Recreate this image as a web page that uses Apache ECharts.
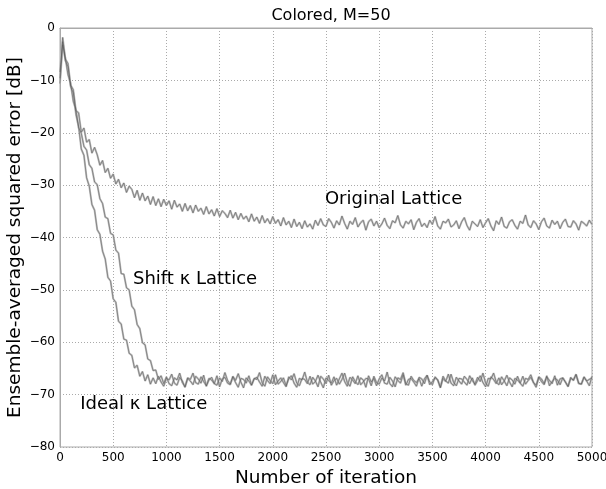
<!DOCTYPE html>
<html>
<head>
<meta charset="utf-8">
<script src="https://cdn.jsdelivr.net/npm/echarts@6/dist/echarts.min.js"></script>
<style>
  html, body { margin: 0; padding: 0; background: #fff; }
  #chart { width: 606px; height: 489px; }
</style>
</head>
<body>
<div id="chart"></div>
<script>
// samples every STEP iterations
const STEP = 25;

const originalLattice = [
  -9.6, -1.8, -5.9, -6.8, -10.9, -11.8, -15.8, -16.2, -19.9, -19.1,
  -21.8, -21.3, -23.9, -22.8, -24.2, -26.2, -25.3, -27.6, -26.8, -28.7,
  -27.9, -29.8, -28.9, -30.5, -29.6, -31.4, -30.2, -30.8, -32.4, -31.0,
  -32.9, -31.5, -33.0, -32.1, -33.7, -32.2, -33.9, -32.6, -34.1, -32.7,
  -33.9, -33.0, -34.6, -32.9, -34.2, -33.6, -35.0, -33.5, -34.9, -33.9,
  -35.3, -33.8, -35.0, -34.4, -35.6, -34.1, -35.5, -34.7, -35.9, -34.5,
  -36.0, -34.9, -35.4, -36.2, -34.8, -36.3, -35.2, -36.6, -35.4, -36.5,
  -35.9, -37.0, -35.5, -36.9, -36.1, -37.3, -35.8, -37.2, -36.4, -37.4,
  -36.0, -37.3, -36.6, -37.8, -36.2, -37.6, -36.9, -38.1, -36.5, -37.9,
  -37.1, -38.3, -36.8, -38.0, -37.4, -38.4, -36.7, -37.7, -36.4, -37.6,
  -37.9, -36.4, -37.1, -38.2, -36.8, -37.6, -35.9, -37.3, -38.4, -36.9,
  -37.5, -36.2, -38.0, -37.2, -36.7, -38.6, -37.0, -36.5, -37.8, -36.9,
  -38.1, -37.4, -36.3, -37.7, -38.3, -36.8, -37.2, -35.8, -37.6, -38.2,
  -36.9, -37.4, -36.6, -38.5, -37.1, -36.4, -37.9, -37.3, -38.1, -36.7,
  -37.5, -36.0, -37.8, -38.4, -36.9, -37.2, -36.5, -38.0, -37.6, -36.8,
  -38.3, -37.0, -36.2, -37.7, -38.6, -36.9, -37.4, -37.9, -36.6, -38.1,
  -37.2, -36.4, -37.8, -38.7, -36.8, -37.5, -36.1, -37.9, -38.2, -37.0,
  -36.6, -37.7, -38.4, -36.9, -37.3, -35.7, -37.6, -38.1, -36.8, -37.4,
  -38.5, -37.0, -36.3, -37.8, -38.2, -36.7, -37.5, -36.9, -38.3, -37.1,
  -36.5, -37.9, -38.0, -36.8, -37.4, -38.6, -36.9, -37.3, -37.8, -36.7,
  -37.5
];

const shiftLattice = [
  -10.6, -3.2, -5.7, -8.9, -10.6, -14.0, -15.6, -19.0, -20.1, -22.6,
  -23.3, -26.1, -26.8, -29.4, -29.9, -32.6, -33.5, -36.1, -36.4, -39.2,
  -39.5, -42.4, -43.0, -46.9, -47.0, -49.6, -50.0, -53.1, -53.8, -56.6,
  -57.4, -60.1, -60.5, -63.2, -63.5, -65.4, -65.3, -67.1, -66.4, -67.9,
  -66.6, -67.9, -68.3, -66.8, -67.2, -65.9, -67.7, -68.5, -66.9, -67.4,
  -68.1, -66.5, -67.0, -67.8, -66.3, -68.4, -67.2, -66.7, -67.9, -68.2,
  -66.8, -67.5, -65.8, -67.3, -68.0, -66.6, -67.7, -68.6, -66.9, -67.1,
  -67.8, -66.4, -68.2, -67.0, -66.7, -67.6, -68.4, -66.5, -67.3, -67.9,
  -66.2, -68.1, -67.4, -66.8, -67.7, -68.5, -66.6, -67.2, -66.0, -67.8,
  -68.3, -66.9, -67.1, -67.9, -66.5, -68.0, -67.5, -66.3, -67.6, -68.7,
  -66.8, -67.3, -67.8, -66.6, -68.2, -67.0, -65.9, -67.5, -68.4, -66.7,
  -67.2, -67.9, -66.4, -68.1, -67.6, -66.9, -67.0, -68.3, -66.5, -67.7,
  -68.0, -66.8, -67.4, -65.7, -67.9, -68.5, -66.6, -67.3, -67.8, -66.2,
  -68.2, -67.1, -66.9, -67.6, -68.4, -66.7, -67.0, -67.9, -66.3, -68.1,
  -67.5, -66.8, -67.2, -68.6, -66.5, -67.4, -67.8, -66.1, -67.7, -68.3,
  -66.9, -67.0, -67.6, -68.2, -66.4, -67.3, -68.0, -66.7, -67.5, -65.9,
  -67.8, -68.4, -66.6, -67.1, -67.9, -66.8, -68.1, -67.4, -66.3, -67.6,
  -68.5, -66.9, -67.2, -67.8, -66.5, -68.0, -67.3, -66.7, -67.7, -68.2,
  -66.6, -67.0, -67.9, -66.4, -68.3, -67.5, -66.9, -67.2, -68.1, -66.8,
  -67.6, -68.4, -66.7, -67.3, -66.2, -67.9, -68.0, -66.6, -67.4, -67.1,
  -66.8
];

const idealLattice = [
  -8.4, -2.6, -6.2, -7.4, -11.2, -12.4, -16.5, -18.8, -23.1, -24.3,
  -28.6, -30.2, -33.7, -34.8, -38.5, -39.4, -42.6, -44.1, -47.6, -48.3,
  -51.7, -52.4, -56.0, -56.5, -59.4, -59.6, -62.1, -62.5, -64.9, -64.4,
  -66.5, -65.6, -67.4, -66.2, -68.0, -66.8,
  -67.9, -66.5, -67.6, -68.4, -66.9, -67.2, -66.1, -67.8, -68.2, -66.7,
  -67.4, -68.6, -66.8, -67.1, -65.9, -67.7, -68.0, -66.6, -67.5, -68.3,
  -66.9, -67.2, -67.9, -66.4, -68.5, -67.0, -66.7, -67.8, -68.1, -66.5,
  -67.3, -66.0, -67.6, -68.7, -66.8, -67.4, -68.2, -66.9, -67.1, -65.8,
  -67.7, -68.4, -66.6, -67.3, -67.9, -66.2, -68.0, -67.5, -66.8, -68.3,
  -67.0, -66.4, -67.8, -68.6, -66.9, -67.2, -65.7, -67.6, -68.1, -66.7,
  -67.4, -68.5, -66.5, -67.0, -67.9, -66.3, -68.2, -67.3, -66.9, -68.0,
  -67.1, -65.9, -67.7, -68.4, -66.6, -67.5, -68.1, -66.8, -67.2, -68.6,
  -66.4, -67.6, -66.9, -68.3, -67.0, -66.2, -67.8, -68.0, -66.7, -67.4,
  -68.5, -66.8, -67.1, -65.8, -67.9, -68.2, -66.5, -67.3, -67.7, -66.9,
  -68.4, -67.0, -66.3, -67.6, -68.1, -66.6, -67.2, -68.7, -66.9, -67.5,
  -66.1, -67.8, -68.3, -66.7, -67.4, -68.0, -66.5, -67.1, -67.9, -66.8,
  -68.2, -67.3, -66.4, -67.7, -68.5, -66.9, -67.0, -65.9, -67.6, -68.1,
  -66.6, -67.4, -68.3, -66.8, -67.2, -68.0, -66.5, -67.8, -68.4, -66.9,
  -67.1, -66.2, -67.7, -68.6, -66.7, -67.5, -68.1, -66.6, -67.3, -67.9,
  -66.4, -68.2, -67.0, -66.8, -67.6, -68.5, -66.9, -67.2, -66.1, -67.8,
  -68.0, -66.7, -67.4, -68.3, -66.5
];

// text labels inside the plot: [iteration, dB] of the left end of each label
const noteTexts = ['Original Lattice', 'Shift \u03ba Lattice', 'Ideal \u03ba Lattice'];
const noteIters = [2490, 686, 190];
const noteLevels = [-32.8, -47.9, -71.8];

const FONT = '"DejaVu Sans", sans-serif';

function toPairs(values) {
    return values.map((v, i) => [i * STEP, v]);
}

function minusSign(v) {
    return String(v).replace('-', '\u2212');
}

const chart = echarts.init(document.getElementById('chart'));

const curves = [idealLattice, shiftLattice, originalLattice];
const series = [];
curves.forEach(function (c) {
    series.push({
        type: 'line', data: toPairs(c), showSymbol: false, symbol: 'none',
        lineStyle: { color: '#bdbdbd', width: 2 }, z: 2, silent: true
    });
});
curves.forEach(function (c) {
    series.push({
        type: 'line', data: toPairs(c), showSymbol: false, symbol: 'none',
        lineStyle: { color: '#505050', width: 0.5 }, z: 3, silent: true
    });
});
series.push({
    type: 'scatter',
    symbolSize: 0,
    z: 5,
    silent: true,
    itemStyle: { opacity: 1 },
    data: noteTexts.map((t, i) => ({ name: t, value: [noteIters[i], noteLevels[i]] })),
    label: {
        show: true,
        position: 'right',
        distance: 0,
        formatter: '{b}',
        fontFamily: FONT,
        fontSize: 18,
        color: '#000'
    }
});

chart.setOption({
    animation: false,
    backgroundColor: '#fff',
    title: {
        text: 'Colored, M=50',
        left: 326,
        textAlign: 'center',
        top: 3,
        textStyle: { fontFamily: FONT, fontSize: 16, fontWeight: 'normal', color: '#000' }
    },
    grid: {
        left: 60, right: 14, top: 28, bottom: 42,
        outerBoundsMode: 'none',
        containLabel: false,
        show: true, borderColor: '#aaa', borderWidth: 1
    },
    xAxis: {
        type: 'value',
        min: 0, max: 5000, interval: 500,
        name: 'Number of iteration',
        nameLocation: 'middle',
        nameGap: 10,
        nameTextStyle: { fontFamily: FONT, fontSize: 18.5, color: '#000' },
        axisLine: { lineStyle: { color: '#aaa' } },
        axisTick: { show: false },
        axisLabel: { margin: 5, fontFamily: FONT, fontSize: 12, color: '#000', formatter: v => String(v) },
        splitLine: { lineStyle: { color: '#aaa', type: [1, 2], width: 1 } }
    },
    yAxis: {
        type: 'value',
        min: -80, max: 0, interval: 10,
        name: 'Ensemble-averaged squared error [dB]',
        nameLocation: 'middle',
        nameGap: 35,
        nameMoveOverlap: false,
        nameTextStyle: { fontFamily: FONT, fontSize: 18.5, color: '#000' },
        axisLine: { show: true, lineStyle: { color: '#aaa' } },
        axisTick: { show: false },
        axisLabel: { margin: 5, fontFamily: FONT, fontSize: 12, color: '#000', formatter: minusSign },
        splitLine: { lineStyle: { color: '#aaa', type: [1, 2], width: 1 } }
    },
    series: series
});
</script>
</body>
</html>
